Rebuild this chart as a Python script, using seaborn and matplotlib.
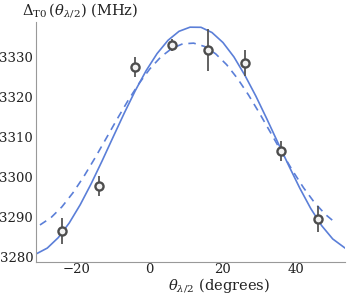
import matplotlib
matplotlib.use("Agg")
import matplotlib.pyplot as plt
import seaborn as sns
import pandas as pd

# measured points
theta_pts = [-24, -14, -4, 6, 16, 26, 36, 46]
delta_pts = [3286.5, 3297.75, 3327.5, 3333.0, 3331.75, 3328.5, 3306.5, 3289.5]
delta_err = [3.2, 2.6, 2.6, 1.5, 5.2, 3.2, 2.4, 3.2]

# solid fit curve
theta_fit = [-31, -28, -25, -22, -19, -16, -13, -10, -7, -4, -1, 2, 5, 8, 11,
             14, 17, 20, 23, 26, 29, 32, 35, 38, 41, 44, 47, 50, 53.4]
delta_fit = [3280.78, 3282.22, 3284.83, 3288.50, 3293.06, 3298.32, 3304.05,
             3310.00, 3315.89, 3321.49, 3326.55, 3330.83, 3334.16, 3336.40,
             3337.43, 3337.40, 3336.10, 3333.60, 3330.00, 3325.40, 3320.20,
             3314.50, 3308.60, 3302.80, 3297.20, 3292.10, 3287.80, 3284.50,
             3282.20]

# dashed curve
theta_dash = [-30, -27, -24, -21, -18, -15, -12, -9, -6, -3, 0, 3, 6, 9, 12,
              15, 18, 21, 24, 27, 30, 33, 36, 39, 42, 45, 48, 50]
delta_dash = [3288.00, 3289.82, 3292.53, 3296.02, 3300.13, 3304.69, 3309.49,
              3314.33, 3318.99, 3323.27, 3326.99, 3329.97, 3332.10, 3333.27,
              3333.44, 3332.60, 3330.78, 3328.07, 3324.58, 3320.47, 3315.91,
              3311.11, 3306.27, 3301.61, 3297.33, 3293.61, 3290.63, 3289.11]

x_ticks = [-20, 0, 20, 40]
y_ticks = [3280, 3290, 3300, 3310, 3320, 3330]

sns.set_style("white")
plt.rcParams["font.family"] = ["DejaVu Serif"]
plt.rcParams["mathtext.fontset"] = "custom"
plt.rcParams["mathtext.rm"] = "DejaVu Serif"
plt.rcParams["mathtext.it"] = "DejaVu Serif:italic"
plt.rcParams["mathtext.bf"] = "DejaVu Serif:bold"

fig = plt.figure(figsize=(3.49, 2.96), dpi=100)
ax = fig.add_axes([0.103, 0.115, 0.886, 0.811])

blue = "#5b7fd8"
sns.lineplot(x=theta_fit, y=delta_fit, ax=ax, color=blue, lw=1.2, sort=False)
sns.lineplot(x=theta_dash, y=delta_dash, ax=ax, color=blue, lw=1.2,
             linestyle=(0, (4.5, 3.5)), sort=False)

ax.errorbar(theta_pts, delta_pts, yerr=delta_err, fmt="none", ecolor="#555555",
            elinewidth=1.3, capsize=0, zorder=3)
df = pd.DataFrame({"theta": theta_pts, "delta": delta_pts})
sns.scatterplot(data=df, x="theta", y="delta", ax=ax, s=34, marker="o",
                facecolor="#f2f2f2", edgecolor="#4d4d4d", linewidth=1.7, zorder=4)

ax.set_xlim(-31.1, 53.4)
ax.set_ylim(3278.75, 3338.75)
ax.set_xticks(x_ticks)
ax.set_yticks(y_ticks)
ax.tick_params(direction="in", length=3, width=0.7, color="#888888",
               labelsize=9.5, labelcolor="#222222", pad=2)
ax.tick_params(axis="x", pad=1)
for s in ["top", "right"]:
    ax.spines[s].set_visible(False)
for s in ["left", "bottom"]:
    ax.spines[s].set_color("#999999")
    ax.spines[s].set_linewidth(0.8)

ax.set_xlabel("")
ax.set_ylabel("")
fig.text(0.063, 0.965, r"$\mathit{Δ}_{\mathrm{T0}}\,(\theta_{\lambda/2})$ (MHz)",
         fontsize=10.5, ha="left", va="center", color="#222222")
fig.text(0.48, 0.035, r"$\theta_{\lambda/2}$ (degrees)",
         fontsize=10.5, ha="left", va="center", color="#222222")

fig.savefig("out.png", dpi=100)
